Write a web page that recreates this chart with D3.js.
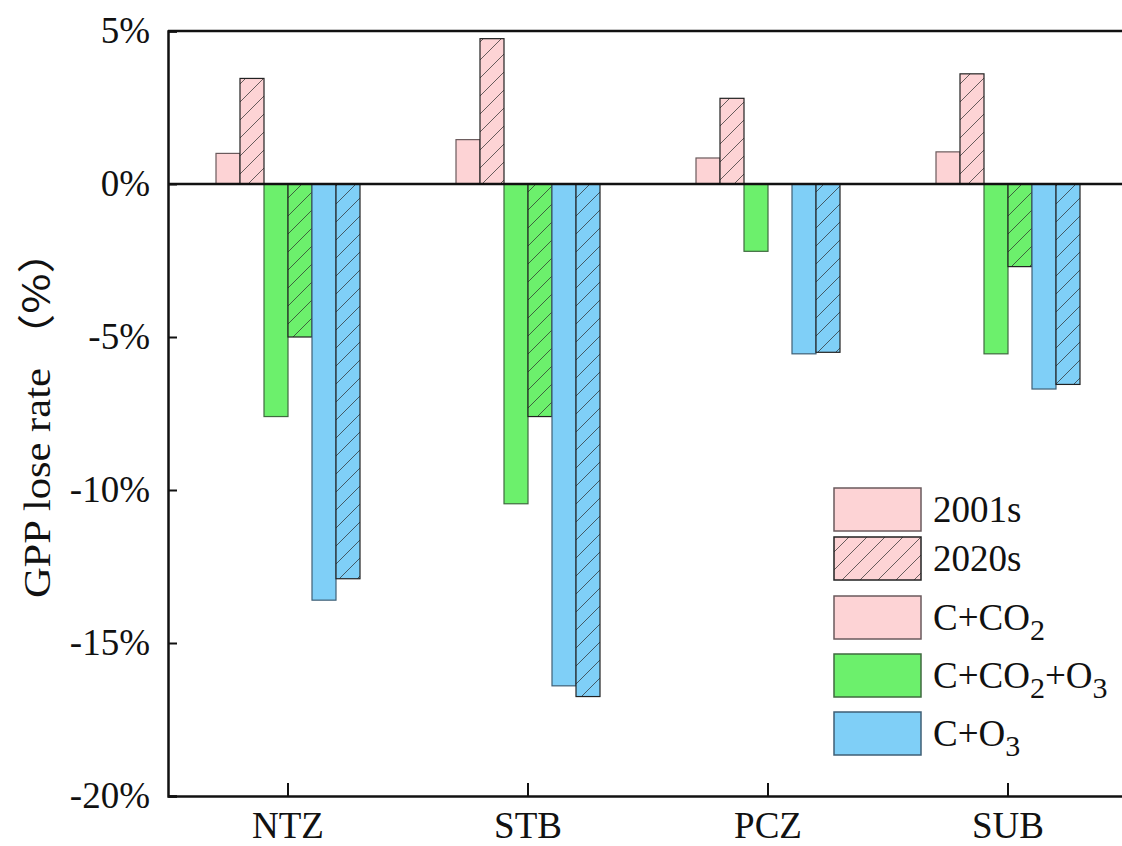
<!DOCTYPE html>
<html>
<head>
<meta charset="utf-8">
<script src="https://cdn.jsdelivr.net/npm/d3@7"></script>
<style>
  html, body { margin: 0; padding: 0; background: #fff; }
  svg { display: block; }
  text { font-family: "Liberation Serif", "Times New Roman", serif; fill: #111; }
</style>
</head>
<body>
<svg id="chart" width="1122" height="846"></svg>
<script>
// ---- data ----
const categories = ["NTZ", "STB", "PCZ", "SUB"];
const co2_2001s   = [1.0, 1.45, 0.85, 1.05];
const co2_2020s   = [3.45, 4.75, 2.8, 3.6];
const co2o3_2001s = [-7.6, -10.45, -2.2, -5.55];
const co2o3_2020s = [-5.0, -7.6, null, -2.7];
const o3_2001s    = [-13.6, -16.4, -5.55, -6.7];
const o3_2020s    = [-12.9, -16.75, -5.5, -6.55];
const yTicks = [5, 0, -5, -10, -15, -20];

const series = [
  { key: "co2_2001",   scen: "co2",   period: "2001s", values: co2_2001s },
  { key: "co2_2020",   scen: "co2",   period: "2020s", values: co2_2020s },
  { key: "co2o3_2001", scen: "co2o3", period: "2001s", values: co2o3_2001s },
  { key: "co2o3_2020", scen: "co2o3", period: "2020s", values: co2o3_2020s },
  { key: "o3_2001",    scen: "o3",    period: "2001s", values: o3_2001s },
  { key: "o3_2020",    scen: "o3",    period: "2020s", values: o3_2020s }
];

const colors = { co2: "#fdd3d5", co2o3: "#6cf06c", o3: "#7fcff7" };
const strokes = { co2: "#6a5a5c", co2o3: "#3f6a3f", o3: "#3f5f75" };

const svg = d3.select("#chart");
const mLeft = 168, mRight = 1128, mTop = 31, mBottom = 796;

const x0 = d3.scaleBand().domain(categories).range([mLeft, mRight])
  .paddingInner(0.4).paddingOuter(0.2);
const x1 = d3.scaleBand().domain(series.map(s => s.key)).range([0, x0.bandwidth()]);
const y = d3.scaleLinear().domain([-20, 5]).range([mBottom, mTop]);

// hatch patterns
const defs = svg.append("defs");
Object.keys(colors).forEach(k => {
  const p = defs.append("pattern").attr("id", "hatch-" + k)
    .attr("patternUnits", "userSpaceOnUse").attr("width", 18).attr("height", 18);
  p.append("rect").attr("width", 18).attr("height", 18).attr("fill", colors[k]);
  p.append("path").attr("d", "M0,18 L18,0 M-2,2 L2,-2 M16,20 L20,16")
    .attr("stroke", "#2a2a2a").attr("stroke-width", 0.9).attr("opacity", 0.8);
});

const fillOf = s => s.period === "2020s" ? `url(#hatch-${s.scen})` : colors[s.scen];

// bars
const g = svg.append("g");
series.forEach(s => {
  g.selectAll(null)
    .data(categories.map((c, i) => ({ c, v: s.values[i] })).filter(d => d.v !== null))
    .enter().append("rect")
    .attr("x", d => x0(d.c) + x1(s.key))
    .attr("width", x1.bandwidth())
    .attr("y", d => y(Math.max(0, d.v)))
    .attr("height", d => Math.abs(y(d.v) - y(0)))
    .attr("fill", fillOf(s))
    .attr("stroke", s.period === "2020s" ? "#222" : strokes[s.scen])
    .attr("stroke-width", 1.2);
});

// frame lines
svg.append("line").attr("x1", mLeft).attr("x2", 1122).attr("y1", mTop).attr("y2", mTop)
  .attr("stroke", "#111").attr("stroke-width", 2.5);
svg.append("line").attr("x1", mLeft).attr("x2", 1122).attr("y1", y(0)).attr("y2", y(0))
  .attr("stroke", "#111").attr("stroke-width", 2.5);

// y axis
const yAxis = d3.axisLeft(y).tickValues(yTicks).tickSize(-9).tickPadding(18)
  .tickFormat(d => d + "%");
const ya = svg.append("g").attr("transform", `translate(${mLeft},0)`).call(yAxis);
ya.attr("font-family", null);
ya.select(".domain").attr("stroke", "#111").attr("stroke-width", 2.5);
ya.selectAll(".tick line").attr("stroke", "#111").attr("stroke-width", 2);
ya.selectAll(".tick text").attr("font-size", 37).attr("font-family", "Liberation Serif")
  .attr("fill", "#111");

// x axis
const xAxis = d3.axisBottom(x0).tickSize(-13).tickPadding(16).tickSizeOuter(0);
const xa = svg.append("g").attr("transform", `translate(0,${mBottom})`).call(xAxis);
xa.attr("font-family", null);
xa.select(".domain").attr("stroke", "#111").attr("stroke-width", 2.5);
xa.selectAll(".tick line").attr("stroke", "#111").attr("stroke-width", 2);
xa.selectAll(".tick text").attr("font-size", 37).attr("font-family", "Liberation Serif")
  .attr("fill", "#111");

// y title
const yt = svg.append("text")
  .attr("transform", "translate(50,414) rotate(-90) scale(1.15,1)")
  .attr("text-anchor", "middle").attr("font-size", 37).attr("fill", "#222");
yt.append("tspan").text("GPP lose rate ");
yt.append("tspan").attr("font-family", "Noto Sans CJK SC").attr("font-size", 38).text("（%）");

// legend
const legendItems = [
  { parts: [["2001s"]], fill: colors.co2, stroke: strokes.co2 },
  { parts: [["2020s"]], fill: "url(#hatch-co2)", stroke: "#222" },
  { parts: [["C+CO"], ["2", "sub"]], fill: colors.co2, stroke: strokes.co2 },
  { parts: [["C+CO"], ["2", "sub"], ["+O"], ["3", "sub"]], fill: colors.co2o3, stroke: strokes.co2o3 },
  { parts: [["C+O"], ["3", "sub"]], fill: colors.o3, stroke: strokes.o3 }
];
const legendY = [488, 537, 596, 654, 712];
const lg = svg.append("g");
legendItems.forEach((it, i) => {
  lg.append("rect").attr("x", 834).attr("y", legendY[i]).attr("width", 87).attr("height", 43)
    .attr("fill", it.fill).attr("stroke", it.stroke).attr("stroke-width", 1.5);
  const t = lg.append("text").attr("x", 933).attr("y", legendY[i] + 34).attr("font-size", 37);
  let sub = false;
  it.parts.forEach(p => {
    const ts = t.append("tspan").text(p[0]);
    if (p[1] === "sub") { ts.attr("font-size", 30).attr("dy", 10); sub = true; }
    else if (sub) { ts.attr("dy", -10); sub = false; }
  });
});
</script>
</body>
</html>
